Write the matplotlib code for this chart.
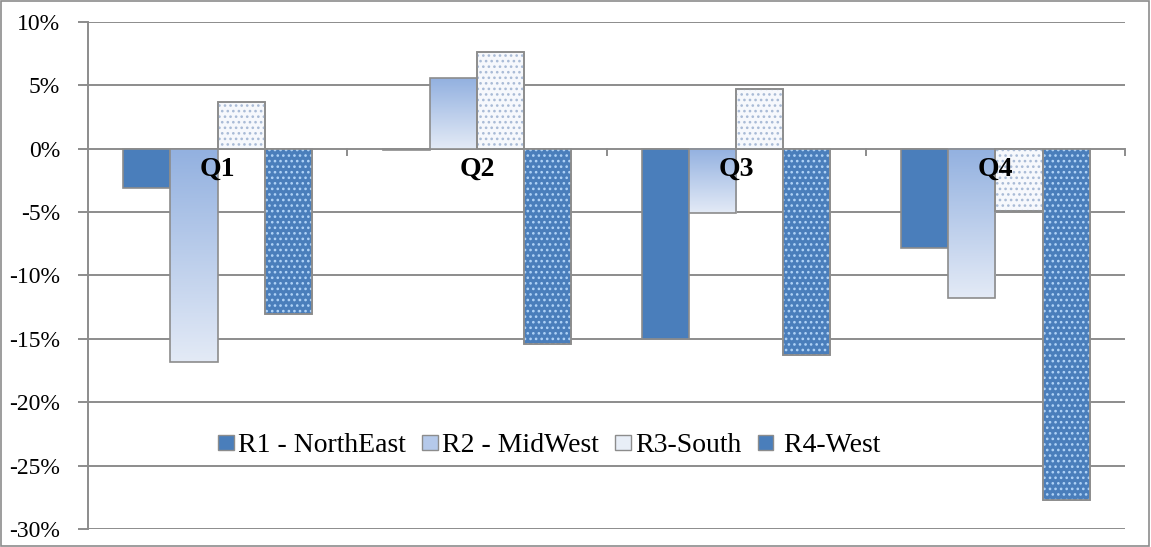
import matplotlib.pyplot as plt
import numpy as np
from matplotlib.patches import Patch, Rectangle
from matplotlib.colors import LinearSegmentedColormap

plt.rcParams['font.family'] = ['Liberation Serif', 'DejaVu Serif']
plt.rcParams['hatch.linewidth'] = 1.1

quarters = ['Q1', 'Q2', 'Q3', 'Q4']
regions = ['R1 - NorthEast', 'R2 - MidWest', 'R3-South', ' R4-West']
r1 = [-3.1, -0.1, -15.0, -7.8]
r2 = [-16.8, 5.6, -5.1, -11.8]
r3 = [3.7, 7.65, 4.7, -4.9]
r4 = [-13.0, -15.4, -16.3, -27.7]
yticks = [10, 5, 0, -5, -10, -15, -20, -25, -30]

blue = '#4a7ebb'
edge = '#8c8c8c'
grad = LinearSegmentedColormap.from_list('g', ['#93b1e0', '#e3eaf6'])

fig = plt.figure(figsize=(11.51, 5.47), dpi=100)
ax = fig.add_axes([0.0765, 0.0329, 0.9009, 0.9269])

x = np.arange(len(quarters))
w = 0.182
offs = [-1.5 * w, -0.5 * w, 0.5 * w, 1.5 * w]

for yv in yticks:
    ax.axhline(yv, color='#8c8c8c', lw=1.4, zorder=0)

# R1 solid
ax.bar(x + offs[0], r1, w, color=blue, edgecolor=edge, lw=1.2, zorder=2)

# R2 gradient
ax.bar(x + offs[1], r2, w, color='none', edgecolor=edge, lw=1.2, zorder=3)
for xi, v in zip(x + offs[1], r2):
    top, bot = max(v, 0), min(v, 0)
    ax.imshow(np.linspace(0, 1, 100).reshape(-1, 1), cmap=grad, aspect='auto',
              extent=[xi - w / 2, xi + w / 2, bot, top], origin='upper', zorder=2)

# R3 light dotted
ax.bar(x + offs[2], r3, w, color='#f6f8fc', edgecolor=edge, lw=1.2, zorder=2)
ax.bar(x + offs[2], r3, w, color='none', edgecolor='#a9bbd6', lw=0, hatch='...', zorder=2.5)
ax.bar(x + offs[2], r3, w, color='none', edgecolor=edge, lw=1.2, zorder=3)

# R4 blue dotted
ax.bar(x + offs[3], r4, w, color=blue, edgecolor=edge, lw=1.2, zorder=2)
ax.bar(x + offs[3], r4, w, color='none', edgecolor='#b0d3f7', lw=0, hatch='...', zorder=2.5)
ax.bar(x + offs[3], r4, w, color='none', edgecolor=edge, lw=1.2, zorder=3)

for xi, q in zip(x, quarters):
    ax.text(xi, -1.6, q, ha='center', va='center', fontsize=20, fontweight='bold', zorder=5)

ax.set_xlim(-0.5, 3.5)
ax.set_ylim(-30, 10)
ax.set_yticks(yticks)
ax.set_yticklabels([f'{v}%' for v in yticks], fontsize=17)
ax.tick_params(axis='y', length=7, width=1.4, color='#8c8c8c', pad=13)
ax.set_xticks([])
for s in ['top', 'right', 'bottom']:
    ax.spines[s].set_visible(False)
ax.spines['left'].set_color('#8c8c8c')
ax.spines['left'].set_linewidth(1.4)
for b in [0.5, 1.5, 2.5, 3.5]:
    ax.plot([b, b], [0, -0.5], color='#8c8c8c', lw=1.4, zorder=1, clip_on=False)

handles = [
    Patch(facecolor=blue, edgecolor=edge),
    Patch(facecolor='#b5c9ea', edgecolor=edge),
    Patch(facecolor='#e8eef7', edgecolor=edge),
    Patch(facecolor=blue, edgecolor=edge),
]
ax.legend(handles, regions, loc='center', bbox_to_anchor=(0.445, 0.164), ncol=4,
          frameon=False, fontsize=20, handlelength=0.55, handleheight=0.5,
          handletextpad=0.15, columnspacing=0.6)

fig.patches.append(Rectangle((0.0005, 0.001), 0.998, 0.997, transform=fig.transFigure,
                             fill=False, edgecolor='#8c8c8c', lw=1.2))

fig.savefig('out.png', dpi=100)
